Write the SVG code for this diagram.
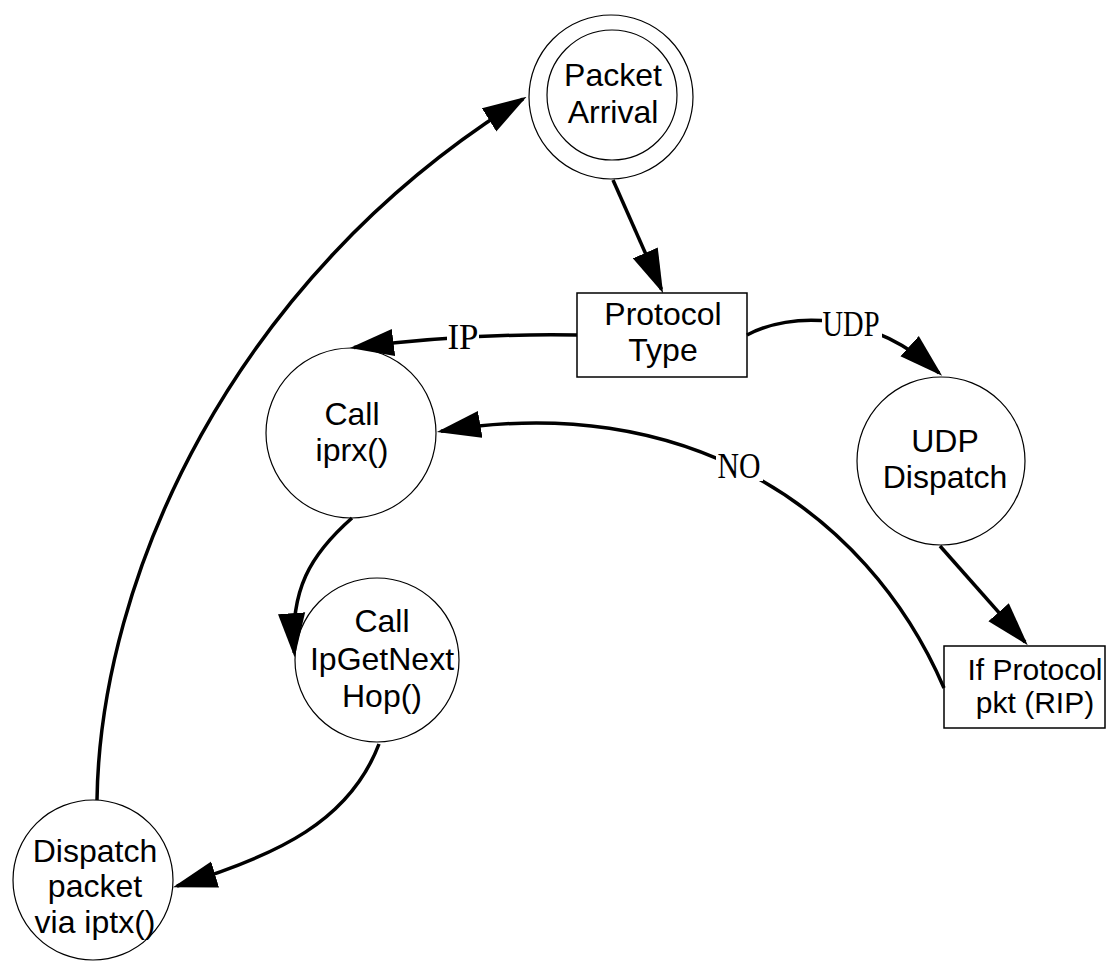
<svg xmlns="http://www.w3.org/2000/svg" width="1107" height="967" viewBox="0 0 1107 967">
  <style>
    .node { fill: #ffffff; stroke: #000000; stroke-width: 1.2; }
    .box { fill: #ffffff; stroke: #000000; stroke-width: 1.5; }
    .txt { font-family: "Liberation Sans", Arial, sans-serif; font-size: 32px; fill: #000000; text-anchor: middle; }
    .edge { fill: none; stroke: #000000; stroke-width: 3.5; marker-end: url(#arrow); }
    .lbl { font-family: "Liberation Serif", "Times New Roman", serif; font-size: 36px; fill: #000000; text-anchor: middle; }
    .lblbg { fill: #ffffff; }
  </style>
  <defs>
    <marker id="arrow" markerUnits="userSpaceOnUse" markerWidth="44" markerHeight="28" viewBox="0 0 42 26" refX="38" refY="13" orient="auto">
      <path d="M0,0 L42,13 L0,26 Z" fill="#000000"/>
    </marker>
  </defs>
  <rect width="1107" height="967" fill="#ffffff"/>

  <!-- nodes -->
  <g id="packet-arrival">
    <circle class="node" cx="611" cy="97" r="82"/>
    <circle class="node" cx="612" cy="95" r="65"/>
    <text class="txt" x="613" y="86">Packet</text>
    <text class="txt" x="613" y="123">Arrival</text>
  </g>
  <g id="protocol-type">
    <rect class="box" x="577" y="293" width="170" height="84"/>
    <text class="txt" x="663" y="325">Protocol</text>
    <text class="txt" x="663" y="361">Type</text>
  </g>
  <g id="call-iprx">
    <circle class="node" cx="351" cy="433" r="85"/>
    <text class="txt" x="352" y="425">Call</text>
    <text class="txt" x="352" y="461">iprx()</text>
  </g>
  <g id="udp-dispatch">
    <circle class="node" cx="941" cy="461" r="84"/>
    <text class="txt" x="945" y="452">UDP</text>
    <text class="txt" x="945" y="488">Dispatch</text>
  </g>
  <g id="if-protocol">
    <rect class="box" x="944" y="646" width="161" height="82"/>
    <text class="txt" x="1035" y="680" style="font-size:30px">If Protocol</text>
    <text class="txt" x="1035" y="713" style="font-size:30px">pkt (RIP)</text>
  </g>
  <g id="call-ipgetnexthop">
    <circle class="node" cx="377" cy="660" r="82"/>
    <text class="txt" x="382" y="632">Call</text>
    <text class="txt" x="382" y="670">IpGetNext</text>
    <text class="txt" x="382" y="707">Hop()</text>
  </g>
  <g id="dispatch-packet">
    <circle class="node" cx="93" cy="880" r="80"/>
    <text class="txt" x="95" y="862">Dispatch</text>
    <text class="txt" x="95" y="897">packet</text>
    <text class="txt" x="95" y="933">via iptx()</text>
  </g>

  <!-- connectors -->
  <g id="connectors">
    <path class="edge" d="M613,180 L661.4,289.3"/>
    <path class="edge" d="M577,335 Q470,333 354,347.5"/>
    <path class="edge" d="M747,335 C790,312 870,310 939,373"/>
    <path class="edge" d="M940,546 L1025,642"/>
    <path class="edge" d="M944,688 C865,505 680,390 441,431.3"/>
    <path class="edge" d="M352,518 C310,555 290,590 294.3,653"/>
    <path class="edge" d="M379,744 C350,820 280,855 177,886"/>
    <path class="edge" d="M97,800 C100,580 230,280 523,99"/>

    <rect class="lblbg" x="447" y="320" width="32" height="32"/>
    <text class="lbl" x="463" y="349" textLength="31" lengthAdjust="spacingAndGlyphs">IP</text>
    <rect class="lblbg" x="822" y="307" width="60" height="32"/>
    <text class="lbl" x="851" y="336" textLength="57" lengthAdjust="spacingAndGlyphs">UDP</text>
    <rect class="lblbg" x="716" y="448" width="47" height="33"/>
    <text class="lbl" x="739" y="478" textLength="43" lengthAdjust="spacingAndGlyphs">NO</text>
  </g>
</svg>
